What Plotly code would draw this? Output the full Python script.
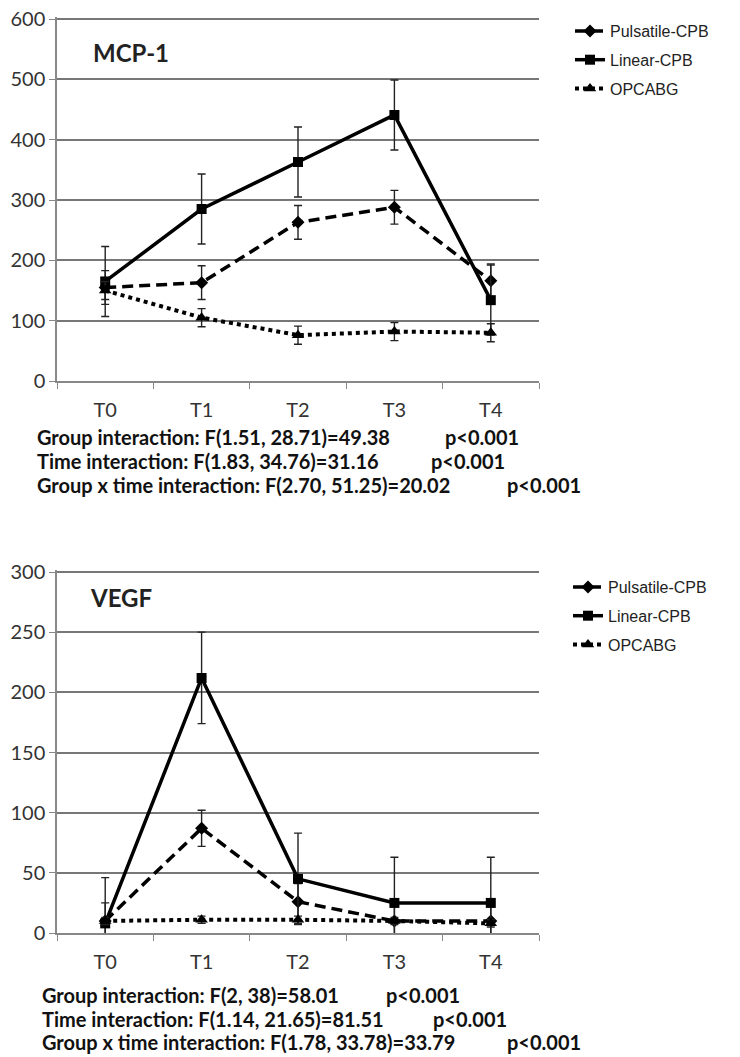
import plotly.graph_objects as go

cats = ["T0", "T1", "T2", "T3", "T4"]
series_names = ["Pulsatile-CPB", "Linear-CPB", "OPCABG"]

mcp_pulsatile = [155, 163, 263, 288, 166]
mcp_pulsatile_err = [28, 28, 28, 28, 28]
mcp_linear = [165, 285, 363, 441, 134]
mcp_linear_err = [58, 58, 58, 58, 58]
mcp_opcabg = [150, 105, 76, 82, 80]
mcp_opcabg_err = [15, 15, 15, 15, 15]

vegf_pulsatile = [10, 87, 26, 10, 10]
vegf_pulsatile_err = [15, 15, 15, 15, 15]
vegf_linear = [8, 212, 45, 25, 25]
vegf_linear_err = [38, 38, 38, 38, 38]
vegf_opcabg = [10, 11, 11, 10, 8]
vegf_opcabg_err = [3, 3, 3, 3, 3]

mcp_stats = ["Group interaction: F(1.51, 28.71)=49.38",
             "Time interaction: F(1.83, 34.76)=31.16",
             "Group x time interaction: F(2.70, 51.25)=20.02"]
vegf_stats = ["Group interaction: F(2, 38)=58.01",
              "Time interaction: F(1.14, 21.65)=81.51",
              "Group x time interaction: F(1.78, 33.78)=33.79"]
p_texts = ["p<0.001", "p<0.001", "p<0.001"]

W, H = 740, 1057


def fx(px):
    return px / W


def fy(py):
    return 1 - py / H


fig = go.Figure()

styles = [
    dict(dash="11px,6px", symbol="diamond", size=10, width=3.5),
    dict(dash="solid", symbol="square", size=10, width=3.5),
    dict(dash="dot", symbol="triangle-up", size=11, width=4),
]


def add_group(vals, errs, xa, ya, legend, suffix):
    for i, (name, v, e) in enumerate(zip(series_names, vals, errs)):
        s = styles[i]
        fig.add_trace(go.Scatter(
            x=cats, y=v, name=name, mode="lines+markers",
            xaxis=xa, yaxis=ya, legend=legend, legendgroup=name + suffix,
            line=dict(color="black", width=s["width"], dash=s["dash"]),
            marker=dict(color="black", symbol=s["symbol"], size=s["size"]),
            error_y=dict(type="data", array=e, visible=True,
                         color="#222", thickness=1.4, width=4),
        ))


add_group([mcp_pulsatile, mcp_linear, mcp_opcabg],
          [mcp_pulsatile_err, mcp_linear_err, mcp_opcabg_err], "x", "y", "legend", "a")
add_group([vegf_pulsatile, vegf_linear, vegf_opcabg],
          [vegf_pulsatile_err, vegf_linear_err, vegf_opcabg_err], "x2", "y2", "legend2", "b")

x_dom = [fx(57), fx(539)]
tickfont = dict(family="Lato", size=20, color="#333")
xcommon = dict(type="category", range=[-0.5, 4.5], tickson="boundaries",
               ticks="outside", ticklen=6, tickcolor="#888", showline=True,
               linecolor="#888", linewidth=1.5, showgrid=False, tickfont=tickfont,
               ticklabelstandoff=10, domain=x_dom, automargin=False,
               ticklabeloverflow="allow")
ycommon = dict(ticks="outside", ticklen=6, tickcolor="#888", showline=True,
               linecolor="#888", linewidth=1.5, showgrid=True, gridcolor="#777",
               gridwidth=1.5, zeroline=False, tickfont=tickfont, automargin=False,
               ticklabeloverflow="allow")

leg_font = dict(family="Liberation Sans", size=16, color="#222")
fig.update_layout(
    width=W, height=H, margin=dict(l=0, r=0, t=0, b=0, autoexpand=False),
    paper_bgcolor="white", plot_bgcolor="white", showlegend=True,
    xaxis=dict(**xcommon, anchor="y"),
    yaxis=dict(**ycommon, range=[0, 603], dtick=100, anchor="x",
               domain=[fy(381), fy(17.2)]),
    xaxis2=dict(**xcommon, anchor="y2"),
    yaxis2=dict(**ycommon, range=[0, 301.5], dtick=50, anchor="x2",
                domain=[fy(933), fy(570.2)]),
    legend=dict(x=fx(570), y=fy(14), xanchor="left", yanchor="top", font=leg_font,
                itemwidth=30, traceorder="grouped", tracegroupgap=5,
                bgcolor="rgba(0,0,0,0)"),
    legend2=dict(x=fx(568), y=fy(570), xanchor="left", yanchor="top", font=leg_font,
                 itemwidth=30, traceorder="grouped", tracegroupgap=5,
                 bgcolor="rgba(0,0,0,0)"),
)

ann = []
ann.append(dict(text="<b>MCP-1</b>", x=fx(91), y=fy(52), xref="paper", yref="paper",
                xanchor="left", yanchor="middle", showarrow=False,
                font=dict(family="Lato", size=24, color="#222")))
ann.append(dict(text="<b>VEGF</b>", x=fx(88), y=fy(597), xref="paper", yref="paper",
                xanchor="left", yanchor="middle", showarrow=False,
                font=dict(family="Lato", size=24, color="#222")))

stat_font = dict(family="Lato", size=20, color="#111")
top_y = [437, 461, 485]
top_px = [443, 429, 505]
bot_y = [995, 1019, 1042]
bot_px = [384, 431, 505]
for i in range(3):
    ann.append(dict(text="<b>" + mcp_stats[i] + "</b>", x=fx(35), y=fy(top_y[i]),
                    xref="paper", yref="paper", xanchor="left", yanchor="middle",
                    showarrow=False, font=stat_font))
    ann.append(dict(text="<b>" + p_texts[i] + "</b>", x=fx(top_px[i]), y=fy(top_y[i]),
                    xref="paper", yref="paper", xanchor="left", yanchor="middle",
                    showarrow=False, font=stat_font))
    ann.append(dict(text="<b>" + vegf_stats[i] + "</b>", x=fx(40), y=fy(bot_y[i]),
                    xref="paper", yref="paper", xanchor="left", yanchor="middle",
                    showarrow=False, font=stat_font))
    ann.append(dict(text="<b>" + p_texts[i] + "</b>", x=fx(bot_px[i]), y=fy(bot_y[i]),
                    xref="paper", yref="paper", xanchor="left", yanchor="middle",
                    showarrow=False, font=stat_font))
fig.update_layout(annotations=ann)

fig.write_html("out.html", config={"displayModeBar": False},
               post_script="document.body.style.margin='0';document.body.style.overflow='hidden';")
